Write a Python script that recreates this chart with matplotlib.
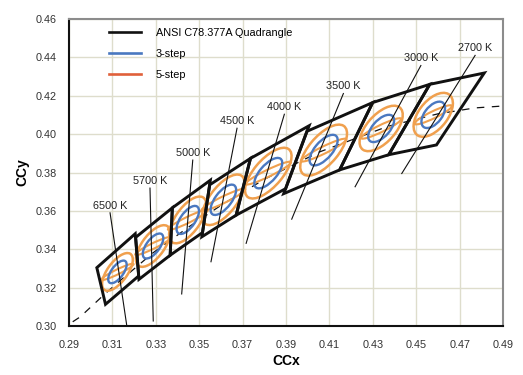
import numpy as np
import matplotlib
matplotlib.use("Agg")
from matplotlib import pyplot as plt
from matplotlib.patches import Ellipse, Polygon
from matplotlib.lines import Line2D

plt.rcParams['font.family'] = ['Liberation Sans', 'DejaVu Sans']

# ANSI C78.377A quadrangles (nominal CCT, corner points)
cct_labels = ['2700 K', '3000 K', '3500 K', '4000 K', '4500 K', '5000 K', '5700 K', '6500 K']
quad_x = [
    [0.4813, 0.4562, 0.4373, 0.4593],
    [0.4562, 0.4299, 0.4147, 0.4373],
    [0.4299, 0.3996, 0.3889, 0.4147],
    [0.4006, 0.3736, 0.3670, 0.3898],
    [0.3736, 0.3548, 0.3512, 0.3670],
    [0.3551, 0.3376, 0.3366, 0.3515],
    [0.3376, 0.3207, 0.3222, 0.3366],
    [0.3205, 0.3028, 0.3068, 0.3221],
]
quad_y = [
    [0.4319, 0.4260, 0.3893, 0.3944],
    [0.4260, 0.4165, 0.3814, 0.3893],
    [0.4165, 0.4015, 0.3690, 0.3814],
    [0.4044, 0.3874, 0.3578, 0.3716],
    [0.3874, 0.3736, 0.3465, 0.3578],
    [0.3760, 0.3616, 0.3369, 0.3487],
    [0.3616, 0.3462, 0.3243, 0.3369],
    [0.3481, 0.3304, 0.3113, 0.3261],
]

# MacAdam ellipse centres and 1-step parameters
ell_x = [0.4578, 0.4338, 0.4073, 0.3818, 0.3611, 0.3447, 0.3287, 0.3123]
ell_y = [0.4101, 0.4030, 0.3917, 0.3797, 0.3658, 0.3553, 0.3417, 0.3282]
ell_a = [0.00258, 0.00278, 0.00313, 0.00313, 0.00302, 0.00274, 0.00246, 0.00223]
ell_b = [0.00137, 0.00136, 0.00139, 0.00134, 0.00129, 0.00118, 0.00107, 0.00095]
ell_theta = [57.2, 53.2, 54.0, 53.7, 57.3, 59.6, 58.6, 58.6]

# isotherm lines (top end, bottom end)
iso_x0 = [0.4771, 0.4521, 0.4164, 0.3892, 0.3674, 0.3470, 0.3273, 0.3089]
iso_y0 = [0.4411, 0.4358, 0.4212, 0.4104, 0.4031, 0.3865, 0.3719, 0.3590]
iso_x1 = [0.4433, 0.4218, 0.3926, 0.3716, 0.3554, 0.3419, 0.3288, 0.3166]
iso_y1 = [0.3795, 0.3726, 0.3557, 0.3431, 0.3335, 0.3167, 0.3026, 0.3002]

# blackbody locus (dashed)
locus_x = [0.2917, 0.2952, 0.3064, 0.3135, 0.3221, 0.3284, 0.3451, 0.3608, 0.3805, 0.4053, 0.4369, 0.4599, 0.4770, 0.4886]
locus_y = [0.3022, 0.3048, 0.3166, 0.3236, 0.3318, 0.3379, 0.3516, 0.3635, 0.3768, 0.3907, 0.4041, 0.4106, 0.4137, 0.4146]

black = '#111111'
blue = '#4a78c0'
orange = '#f0a04e'
legend_orange = '#e0603a'

fig = plt.figure(figsize=(5.23, 3.75), dpi=100)
ax = fig.add_axes([0.132, 0.1307, 0.83, 0.8183])

ax.plot(locus_x, locus_y, color=black, lw=0.9, dashes=(6, 6), zorder=2)

for i in range(len(cct_labels)):
    # 5-step traces
    ax.add_patch(Ellipse((ell_x[i], ell_y[i]), 2 * 5 * ell_a[i], 2 * 5 * ell_b[i],
                         angle=ell_theta[i], fill=False, ec=orange, lw=1.8, zorder=3))
    ax.add_patch(Ellipse((ell_x[i], ell_y[i]), 2 * 3.8 * ell_a[i], 2 * 1.3 * ell_b[i],
                         angle=29, fill=False, ec=orange, lw=1.5, zorder=3))
    # 3-step
    ax.add_patch(Ellipse((ell_x[i], ell_y[i]), 2 * 3 * ell_a[i], 2 * 3 * ell_b[i],
                         angle=ell_theta[i], fill=False, ec=blue, lw=1.7, zorder=4))
    ax.add_patch(Polygon(np.column_stack([quad_x[i], quad_y[i]]), closed=True,
                         fill=False, ec=black, lw=2.1, joinstyle='miter', zorder=5))
    ax.plot([iso_x0[i], iso_x1[i]], [iso_y0[i], iso_y1[i]], color=black, lw=0.8, zorder=5)
    ax.text(iso_x0[i], iso_y0[i] + 0.0012, cct_labels[i], ha='center', va='bottom',
            fontsize=7.8, color='#222222')

ax.set_xlim(0.29, 0.49)
ax.set_ylim(0.30, 0.46)
ax.set_xticks(np.arange(0.29, 0.4901, 0.02))
ax.set_yticks(np.arange(0.30, 0.4601, 0.02))
ax.set_xticklabels([f'{v:.2f}' for v in np.arange(0.29, 0.4901, 0.02)])
ax.set_yticklabels([f'{v:.2f}' for v in np.arange(0.30, 0.4601, 0.02)])
ax.tick_params(axis='both', length=0, labelsize=7.8, colors='#333333')
ax.tick_params(axis='x', pad=10)
ax.tick_params(axis='y', pad=9)
ax.grid(True, color='#deddcc', lw=1.0, zorder=0)
ax.set_axisbelow(True)

for side in ['left', 'bottom']:
    ax.spines[side].set_color(black)
    ax.spines[side].set_linewidth(1.5)
for side in ['top', 'right']:
    ax.spines[side].set_color('#8c8c8c')
    ax.spines[side].set_linewidth(1.5)

ax.set_xlabel('CCx', fontsize=10, fontweight='bold', labelpad=3)
ax.set_ylabel('CCy', fontsize=10, fontweight='bold', labelpad=4)

handles = [Line2D([], [], color=black, lw=1.9),
           Line2D([], [], color=blue, lw=1.9),
           Line2D([], [], color=legend_orange, lw=1.9)]
ax.legend(handles, ['ANSI C78.377A Quadrangle', '3-step', '5-step'],
          loc='upper left', bbox_to_anchor=(0.07, 1.003), frameon=False,
          fontsize=7.8, handlelength=2.9, handletextpad=1.4, labelspacing=1.0)

fig.savefig('out.png', dpi=100)
